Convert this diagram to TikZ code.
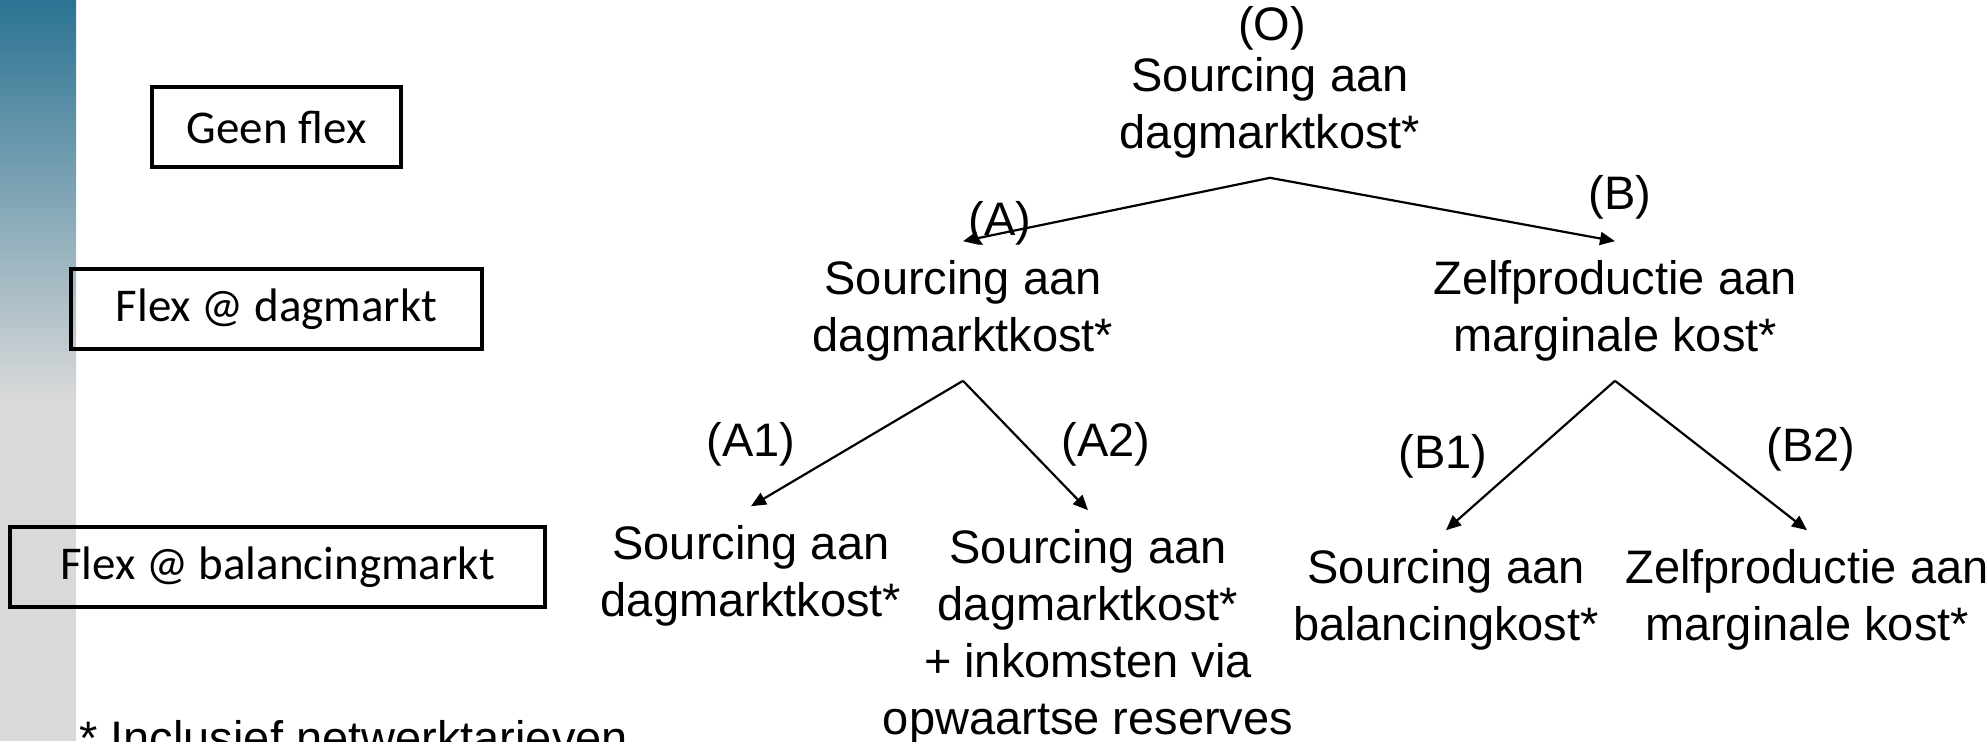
\documentclass[tikz,border=0pt]{standalone}
\usepackage{fontspec}
\setmainfont{Liberation Sans}
\newfontfamily\calibfont{Carlito}
\usetikzlibrary{arrows.meta}
\definecolor{barteal}{HTML}{2B7393}
\definecolor{bargray}{HTML}{D9D9D9}
\begin{document}
\begin{tikzpicture}[x=0.5pt,y=-0.5pt,
  lvlbox/.style={draw=black,line width=1.9pt,font=\calibfont\fontsize{23.5}{28}\selectfont,inner sep=0pt,minimum height=40pt},
  txt/.style={align=center,font=\fontsize{23.5}{28.5}\selectfont,inner xsep=2pt,inner ysep=9.5pt},
  lbl/.style={font=\fontsize{23.5}{28.5}\selectfont,inner sep=0pt},
  arr/.style={-{Triangle[length=7.5pt,width=6.5pt]},line width=1.1pt}]
\useasboundingbox (0,0) rectangle (1988,741);
\clip (0,0) rectangle (1988,741);
\fill[white] (0,0) rectangle (1988,741);
\shade[top color=barteal,bottom color=bargray] (0,0) rectangle (76,400);
\fill[bargray] (0,399) rectangle (76,741);
% level boxes
\node[lvlbox,minimum width=124.5pt] (g0) at (276.5,127) {Geen flex};
\node[lvlbox,minimum width=205.5pt] (g1) at (276.5,309) {Flex @ dagmarkt};
\node[lvlbox,minimum width=267.5pt] (g2) at (277.5,567) {Flex @ balancingmarkt};
% tree
\node[lbl] (lO) at (1272,28) {(O)};
\node[txt] (O) at (1270,108) {Sourcing aan\\dagmarktkost*};
\node[txt] (A) at (963,311) {Sourcing aan\\dagmarktkost*};
\node[txt] (B) at (1615,311) {Zelfproductie aan\\marginale kost*};
\node[lbl] (lA) at (1000,223) {(A)};
\node[lbl] (lB) at (1620,197) {(B)};
\node[txt] (A1) at (751,576) {Sourcing aan\\dagmarktkost*};
\node[txt] (A2) at (1088,637) {Sourcing aan\\dagmarktkost*\\+ inkomsten via\\opwaartse reserves};
\node[txt] (B1) at (1446,600) {Sourcing aan\\balancingkost*};
\node[txt] (B2) at (1807,600) {Zelfproductie aan\\marginale kost*};
\node[lbl] (lA1) at (751,444) {(A1)};
\node[lbl] (lA2) at (1106,444) {(A2)};
\node[lbl] (lB1) at (1443,456) {(B1)};
\node[lbl] (lB2) at (1811,449) {(B2)};
\draw[arr] (O.south) -- (A.north);
\draw[arr] (O.south) -- (B.north);
\draw[arr] (A.south) -- (A1.north);
\draw[arr] (A.south) -- (A2.north);
\draw[arr] (B.south) -- (B1.north);
\draw[arr] (B.south) -- (B2.north);
\node[lbl,anchor=base west] (fn) at (79,754) {* Inclusief netwerktarieven};
\end{tikzpicture}
\end{document}
